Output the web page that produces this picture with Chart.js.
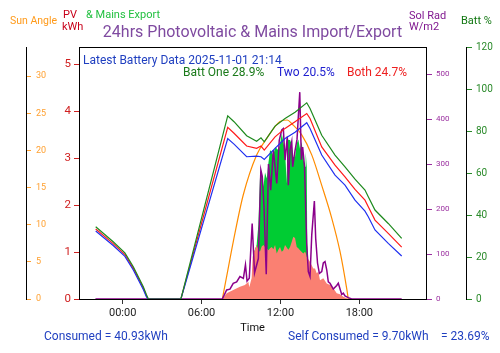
<!DOCTYPE html>
<html>
<head>
<meta charset="utf-8">
<script src="https://cdn.jsdelivr.net/npm/chart.js@4"></script>
<style>
  body { margin: 0; background: #fff; }
  #wrap { width: 500px; height: 353px; }
</style>
</head>
<body>
<div id="wrap"><canvas id="pvChart"></canvas></div>
<script>
// battery state of charge, hours from midnight
const battHours = [-2.05, -0.72, 0.17, 0.81, 1.57, 1.81, 1.95, 4.43, 7.99, 8.47, 9.43, 10.19, 10.52, 10.77, 11.59, 12.35, 13.11, 14.00, 14.25, 15.14, 16.15, 16.91, 17.67, 18.43, 18.68, 19.19, 20.20, 21.22];
const battOne  = [34.4, 27.3, 22.0, 15.4, 5.9, 2.0, 0, 0, 87.3, 84.5, 77.8, 75.2, 76.8, 74.9, 82.4, 86.0, 89.0, 93.5, 90.8, 78.0, 68.6, 63.0, 57.1, 51.9, 48.7, 42.4, 36.0, 28.9];
const battTwo  = [32.4, 25.5, 20.3, 13.8, 4.5, 1.0, 0, 0, 76.5, 73.8, 67.8, 68.1, 67.8, 66.5, 71.8, 76.5, 79.5, 84.0, 81.3, 68.6, 59.0, 54.3, 47.1, 41.9, 39.2, 32.9, 26.5, 20.5];
const battBoth = [33.4, 26.4, 21.2, 14.6, 5.2, 1.5, 0, 0, 81.8, 79.0, 72.9, 71.8, 72.9, 71.0, 77.3, 81.3, 84.5, 88.4, 86.0, 72.5, 63.8, 58.2, 52.2, 47.1, 44.0, 37.6, 31.3, 24.7];

// sun elevation
const sunHours = [7.58, 7.99, 8.41, 9.17, 10.19, 10.95, 11.97, 12.52, 12.86, 13.62, 14.38, 15.14, 15.90, 16.53, 17.04, 17.16];
const sunAngle = [0, 3.8, 7.7, 14.0, 19.4, 21.6, 23.9, 24.1, 23.6, 22.1, 19.4, 15.3, 10.9, 6.4, 1.4, 0];

// solar radiation W/m2
const solHours = [-2.07, 7.58, 7.91, 8.16, 8.41, 8.67, 8.92, 9.18, 9.34, 9.46, 9.63, 9.85, 10.03, 10.32, 10.51, 10.62, 10.75, 10.92, 11.09, 11.26, 11.46, 11.72, 11.91, 12.10, 12.22, 12.35, 12.52, 12.60, 12.73, 12.86, 12.93, 13.11, 13.26, 13.47, 13.59, 13.69, 13.83, 14.00, 14.12, 14.25, 14.38, 14.58, 14.68, 14.82, 14.96, 15.14, 15.26, 15.39, 15.52, 15.64, 15.77, 16.02, 16.28, 16.40, 16.66, 16.78, 16.91, 17.16, 17.42, 21.22];
const solRad   = [0, 0, 20, 22, 35, 38, 50, 46, 76, 40, 46, 168, 58, 90, 287, 272, 205, 55, 300, 242, 331, 257, 353, 376, 379, 309, 361, 253, 331, 350, 294, 330, 355, 460, 310, 338, 295, 120, 61, 50, 142, 218, 135, 80, 57, 61, 80, 83, 65, 38, 35, 22, 30, 35, 10, 13, 7, 3, 0, 0];

// PV kWh: total generated (export shows above self use) and self consumed
const pvHours = [7.58, 7.91, 8.41, 8.92, 9.30, 9.56, 9.63, 9.81, 9.89, 9.99, 10.19, 10.32, 10.44, 10.57, 10.70, 10.83, 10.96, 11.08, 11.21, 11.34, 11.46, 11.59, 11.72, 11.84, 11.97, 12.10, 12.22, 12.35, 12.48, 12.52, 12.60, 12.73, 12.86, 12.98, 13.11, 13.24, 13.36, 13.49, 13.62, 13.74, 13.87, 13.92, 14.00, 14.04, 14.12, 14.25, 14.50, 14.63, 14.76, 14.88, 15.01, 15.26, 15.52, 15.90, 16.28, 16.53, 16.78, 17.16];
const pvSelf  = [0, 0.12, 0.19, 0.26, 0.30, 0.37, 0.25, 0.45, 0.90, 1.00, 1.15, 1.05, 1.01, 1.12, 1.15, 1.11, 1.08, 1.04, 1.08, 1.11, 1.06, 1.15, 0.97, 1.05, 1.11, 1.01, 1.04, 1.15, 1.10, 1.08, 1.05, 1.11, 1.22, 1.33, 1.30, 1.11, 1.08, 1.04, 1.00, 0.97, 1.01, 0.98, 0.90, 0.88, 0.85, 0.79, 0.65, 0.65, 0.55, 0.58, 0.40, 0.44, 0.33, 0.28, 0.12, 0.10, 0.05, 0];
const pvTotal = [null, null, null, null, null, null, null, null, null, 1.00, 1.15, 1.58, 2.57, 2.75, 2.39, 2.70, 2.57, 2.89, 3.17, 3.14, 3.05, 3.24, 3.21, 3.17, 3.30, 3.53, 3.35, 3.17, 2.46, 3.49, 3.39, 3.39, 3.30, 3.03, 3.03, 3.32, 3.40, 3.20, 3.35, 3.00, 2.82, 3.14, 2.82, 1.19, 0.85, null, null, null, null, null, null, null, null, null, null, null, null, null];

// axis ticks
const timeTicks = [0, 6, 12, 18];
const pvTicks = [0, 1, 2, 3, 4, 5];
const sunTicks = [0, 5, 10, 15, 20, 25, 30];
const solTicks = [0, 100, 200, 300, 400, 500];
const battTicks = [0, 20, 40, 60, 80, 100, 120];

const latestText = "Latest Battery Data 2025-11-01 21:14";
const battText = ["Batt One 28.9%", "Two 20.5%", "Both 24.7%"];
const footText = ["Consumed = 40.93kWh", "Self Consumed = 9.70kWh", "= 23.69%"];

function pts(xs, ys) {
    return xs.map((x, i) => ({x: x, y: ys[i]}));
}
function fixTicks(list) {
    return function(scale) { scale.ticks = list.map(v => ({value: v})); };
}

Chart.defaults.font.family = "Roboto";

const textPlugin = {
    id: "extraText",
    afterDraw(chart) {
        const ctx = chart.ctx;
        const a = chart.chartArea;
        ctx.save();
        ctx.strokeStyle = "#000";
        ctx.lineWidth = 1;
        ctx.beginPath();
        ctx.moveTo(a.left, Math.round(a.top) + 0.5);
        ctx.lineTo(a.right, Math.round(a.top) + 0.5);
        ctx.stroke();

        ctx.textBaseline = "middle";
        ctx.textAlign = "left";
        const put = (t, x, y, c, s) => {
            ctx.font = s + "px Roboto";
            ctx.fillStyle = c;
            ctx.fillText(t, x, y);
        };
        put("Sun Angle", 10, 21, "#ff9a1a", 10.5);
        put("PV", 63, 15, "#c8001a", 11);
        put("kWh", 62, 27, "#c8001a", 11);
        put("& Mains Export", 86, 15, "#22c040", 11);
        put("Sol Rad", 409, 16, "#801890", 11);
        put("W/m2", 409, 27, "#801890", 11);
        put("Batt %", 461, 21, "#117711", 11);

        put(latestText, 83, 60.5, "#1f3fc0", 12);
        put(battText[0], 183, 72.5, "#1a7a1a", 12);
        put(battText[1], 277, 72.5, "#2020d0", 12);
        put(battText[2], 347, 72.5, "#ee2020", 12);

        put(footText[0], 44, 336.5, "#1f3fc0", 12);
        put(footText[1], 288, 336.5, "#1f3fc0", 12);
        put(footText[2], 441, 336.5, "#1f3fc0", 12);
        ctx.restore();
    }
};

new Chart("pvChart", {
    type: "line",
    data: {
        datasets: [
            {data: pts(battHours, battOne), yAxisID: "yBatt", borderColor: "#1e8a1e", borderWidth: 1.2, pointRadius: 0},
            {data: pts(battHours, battTwo), yAxisID: "yBatt", borderColor: "#2030f0", borderWidth: 1.2, pointRadius: 0},
            {data: pts(battHours, battBoth), yAxisID: "yBatt", borderColor: "#ff1a1a", borderWidth: 1.2, pointRadius: 0},
            {data: pts(solHours, solRad), yAxisID: "ySol", borderColor: "#8b008b", borderWidth: 1.5, pointRadius: 0},
            {data: pts(sunHours, sunAngle), yAxisID: "ySun", borderColor: "#ff8c00", borderWidth: 1.2, pointRadius: 0, cubicInterpolationMode: "monotone"},
            {data: pts(pvHours, pvSelf), yAxisID: "yPV", borderWidth: 0, borderColor: "rgba(0,0,0,0)", backgroundColor: "#fa8072", fill: "origin", pointRadius: 0},
            {data: pts(pvHours, pvTotal), yAxisID: "yPV", borderWidth: 0, borderColor: "rgba(0,0,0,0)", backgroundColor: "#00cc33", fill: "origin", pointRadius: 0}
        ]
    },
    options: {
        responsive: true,
        maintainAspectRatio: false,
        animation: false,
        events: [],
        plugins: {
            legend: {display: false},
            tooltip: {enabled: false},
            title: {
                display: true,
                fullSize: false,
                text: "24hrs Photovoltaic & Mains Import/Export",
                color: "#7f4aa0",
                font: {size: 16, weight: "normal"},
                padding: {top: 23, bottom: 5}
            }
        },
        scales: {
            x: {
                type: "linear",
                min: -3.32,
                max: 23.07,
                afterBuildTicks: fixTicks(timeTicks),
                afterFit: s => { s.height = 54; },
                ticks: {
                    color: "#222",
                    font: {size: 11},
                    padding: 3,
                    maxRotation: 0,
                    callback: v => String(v).padStart(2, "0") + ":00"
                },
                grid: {drawOnChartArea: false, tickLength: 5, tickColor: "#333"},
                border: {color: "#000"},
                title: {display: true, text: "Time", color: "#111", font: {size: 11}, padding: {top: 0, bottom: 18}}
            },
            yPV: {
                position: "left",
                min: 0,
                max: 5.37,
                afterBuildTicks: fixTicks(pvTicks),
                afterFit: s => { s.width = 53; },
                ticks: {color: "#d02020", font: {size: 11.5}, padding: 3},
                grid: {drawOnChartArea: false, tickLength: 5, tickColor: "#d02020"},
                border: {color: "#000"}
            },
            ySun: {
                position: "left",
                min: 0,
                max: 33.9,
                afterBuildTicks: fixTicks(sunTicks),
                afterFit: s => { s.width = 26; },
                ticks: {color: "#ffa030", font: {size: 9}, mirror: true, padding: 10},
                grid: {drawOnChartArea: false, tickLength: -5, tickColor: "#ffa030"},
                border: {color: "#000"}
            },
            ySol: {
                position: "right",
                min: 0,
                max: 560,
                afterBuildTicks: fixTicks(solTicks),
                afterFit: s => { s.width = 40; },
                ticks: {color: "#9b30a0", font: {size: 8}, padding: 4},
                grid: {drawOnChartArea: false, tickLength: 6, tickColor: "#9b30a0"},
                border: {color: "#000"}
            },
            yBatt: {
                position: "right",
                min: 0,
                max: 120,
                afterBuildTicks: fixTicks(battTicks),
                afterFit: s => { s.width = 34; },
                ticks: {color: "#2a8a2a", font: {size: 10}, padding: 4},
                grid: {drawOnChartArea: false, tickLength: 6, tickColor: "#2a8a2a"},
                border: {color: "#000"}
            }
        }
    },
    plugins: [textPlugin]
});
</script>
</body>
</html>
